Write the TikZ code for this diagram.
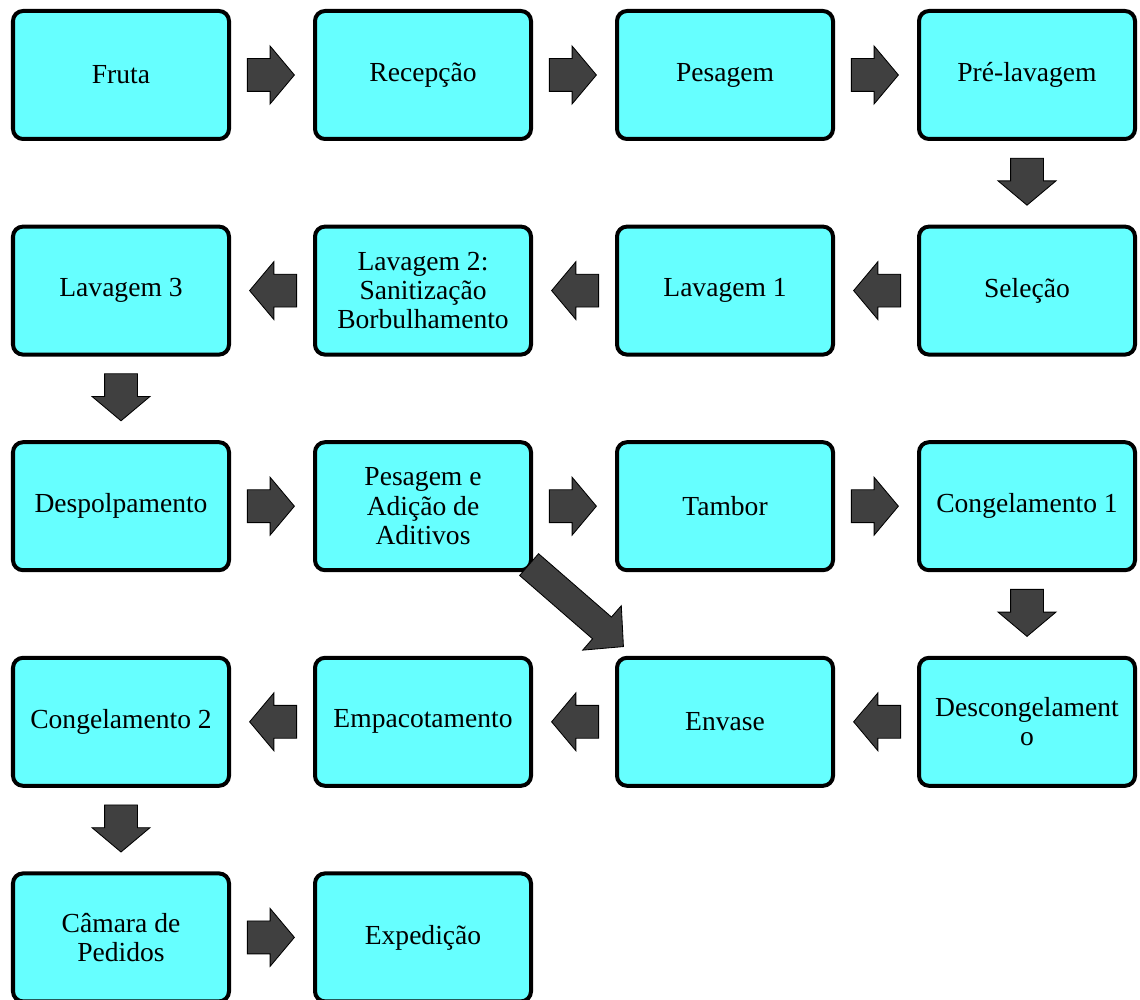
\documentclass[tikz,border=0pt]{standalone}
\usepackage{fontspec}
\setmainfont{Liberation Serif}
\usetikzlibrary{positioning,shapes.arrows,calc}
\definecolor{boxcyan}{HTML}{66FFFF}
\definecolor{arrowgray}{HTML}{404040}

\begin{document}
\begin{tikzpicture}[node distance=2.09cm and 2.05cm,
        % define styles
        etapa/.style={
             draw,
             rectangle,
             rounded corners=0.25cm,
             line width=0.1cm,
             fill=boxcyan,
             minimum width=5.4cm,
             minimum height=3.2cm,
             align=center,
             font=\fontsize{19.6}{20.8}\selectfont
        },
        seta/.style={
             draw,
             single arrow,
             fill=arrowgray,
             line width=0.6pt,
             inner xsep=0pt,
             inner ysep=0.4cm,
             minimum height=1.175cm,
             single arrow head extend=0.3125cm,
             single arrow tip angle=100
        }
    ]
        \useasboundingbox (0,0) rectangle (28.5,-24.975);

        % first row, left to right
        \node[etapa] at (3.025,-1.875) (fruta) {Fruta};
        \node[etapa, right=of fruta] (recepcao) {Recepção};
        \node[etapa, right=of recepcao] (pesagem) {Pesagem};
        \node[etapa, right=of pesagem] (prelavagem) {Pré-lavagem};

        % second row, right to left
        \node[etapa, below=of prelavagem] (selecao) {Seleção};
        \node[etapa, left=of selecao] (lavagem1) {Lavagem 1};
        \node[etapa, left=of lavagem1] (lavagem2) {Lavagem 2:\\Sanitização\\Borbulhamento};
        \node[etapa, left=of lavagem2] (lavagem3) {Lavagem 3};

        % third row
        \node[etapa, below=of lavagem3] (despolpamento) {Despolpamento};
        \node[etapa, right=of despolpamento] (adicao) {Pesagem e\\Adição de\\Aditivos};
        \node[etapa, right=of adicao] (tambor) {Tambor};
        \node[etapa, right=of tambor] (congelamento1) {Congelamento 1};

        % fourth row
        \node[etapa, below=of congelamento1] (descongelamento) {Descongelament\\o};
        \node[etapa, left=of descongelamento] (envase) {Envase};
        \node[etapa, left=of envase] (empacotamento) {Empacotamento};
        \node[etapa, left=of empacotamento] (congelamento2) {Congelamento 2};

        % last row
        \node[etapa, below=of congelamento2] (camara) {Câmara de\\Pedidos};
        \node[etapa, right=of camara] (expedicao) {Expedição};

        % block arrows between the steps
        \foreach \a/\b/\r in {fruta/recepcao/0, recepcao/pesagem/0, pesagem/prelavagem/0,
                prelavagem/selecao/-90, selecao/lavagem1/180, lavagem1/lavagem2/180,
                lavagem2/lavagem3/180, lavagem3/despolpamento/-90,
                despolpamento/adicao/0, adicao/tambor/0, tambor/congelamento1/0,
                congelamento1/descongelamento/-90, descongelamento/envase/180,
                envase/empacotamento/180, empacotamento/congelamento2/180,
                congelamento2/camara/-90, camara/expedicao/0}
            \node[seta, rotate=\r] at ($($(\a)!0.5!(\b)$)!0.2cm!(\a)$) {};

        % diagonal one, Aditivos to Envase
        \node[seta, rotate=-41, minimum height=3.125cm, inner ysep=0.35cm,
              single arrow head extend=0.375cm, single arrow tip angle=92]
              at ($(adicao.south east)!0.5!(envase.north west)+(-0.075,0.325)$) (diag) {};
    \end{tikzpicture}
\end{document}
